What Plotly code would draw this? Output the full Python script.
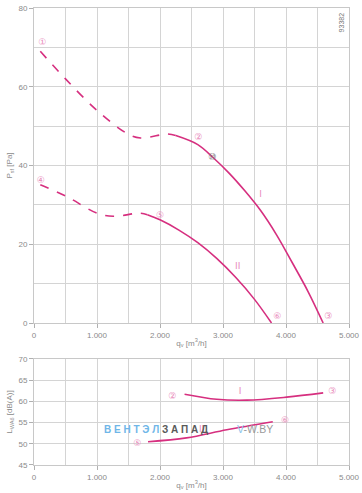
import plotly.graph_objects as go

# ---- data ----
# Pressure curves (top chart), q in m3/h, p in Pa
I_dash_q = [100, 500, 1000, 1470, 1690, 2120, 2250]
I_dash_p = [69.0, 62.0, 54.0, 48.2, 47.0, 48.0, 47.6]
I_q = [2250, 2600, 2850, 3100, 3350, 3600, 3850, 4100, 4350, 4590]
I_p = [47.6, 45.3, 41.9, 38.0, 33.5, 28.5, 22.4, 15.3, 8.0, 0.0]

II_dash_q = [100, 520, 1000, 1260, 1680, 1800]
II_dash_p = [35.1, 32.1, 27.9, 27.1, 27.9, 27.5]
II_q = [1800, 2000, 2300, 2600, 2900, 3200, 3500, 3770]
II_p = [27.5, 26.2, 23.6, 20.4, 16.4, 11.6, 6.0, 0.0]

# Sound curves (bottom chart), dB(A)
LI_q = [2390, 2900, 3380, 4010, 4590]
LI_L = [61.7, 60.5, 60.3, 61.0, 62.0]
LII_q = [1810, 2420, 3060, 3790]
LII_L = [50.5, 51.4, 53.3, 55.2]

# point labels
top_lbl_text = ["①", "②", "③", "④", "⑤", "⑥", "I", "II"]
top_lbl_q = [132, 2608, 4672, 106, 2000, 3862, 3598, 3233]
top_lbl_p = [71.1, 47.0, 1.7, 36.2, 27.3, 1.7, 32.7, 14.2]
gray_lbl_text = ["⑩"]
gray_lbl_q = [2830]
gray_lbl_p = [42.0]
bot_lbl_text = ["②", "I", "③", "⑤", "II", "⑥"]
bot_lbl_q = [2196, 3270, 4735, 1640, 2661, 3984]
bot_lbl_L = [61.0, 62.3, 62.3, 50.0, 53.4, 55.4]

x_ticks = [0, 1000, 2000, 3000, 4000, 5000]
x_tick_text = ["0", "1.000", "2.000", "3.000", "4.000", "5.000"]
top_y_ticks = [0, 20, 40, 60, 80]
bot_y_ticks = [45, 50, 55, 60, 65, 70]

PINK = "#d62f7f"
LPINK = "#e98bbb"
GRID = "#d4d4d4"
TXT = "#8a8a8a"
FONT = "Liberation Sans, Arial, sans-serif"

fig = go.Figure()

def line(x, y, dash, xa, ya):
    fig.add_trace(go.Scatter(x=x, y=y, mode="lines", xaxis=xa, yaxis=ya,
                             line=dict(color=PINK, width=1.6, dash=dash, shape="spline"),
                             hoverinfo="skip", showlegend=False))

line(I_dash_q, I_dash_p, "dash", "x", "y")
line(I_q, I_p, "solid", "x", "y")
line(II_dash_q, II_dash_p, "dash", "x", "y")
line(II_q, II_p, "solid", "x", "y")
line(LI_q, LI_L, "solid", "x2", "y2")
line(LII_q, LII_L, "solid", "x2", "y2")

fig.add_trace(go.Scatter(x=top_lbl_q, y=top_lbl_p, text=top_lbl_text, mode="text",
                         textfont=dict(color=LPINK, size=9, family="DejaVu Sans"),
                         xaxis="x", yaxis="y", showlegend=False, hoverinfo="skip"))
fig.add_trace(go.Scatter(x=gray_lbl_q, y=gray_lbl_p, text=gray_lbl_text, mode="text",
                         textfont=dict(color="#777777", size=9, family="DejaVu Sans"),
                         xaxis="x", yaxis="y", showlegend=False, hoverinfo="skip"))
fig.add_trace(go.Scatter(x=bot_lbl_q, y=bot_lbl_L, text=bot_lbl_text, mode="text",
                         textfont=dict(color=LPINK, size=9, family="DejaVu Sans"),
                         xaxis="x2", yaxis="y2", showlegend=False, hoverinfo="skip"))

axis_common = dict(showgrid=True, gridcolor=GRID, gridwidth=1, zeroline=False,
                   showline=True, linecolor="#c8c8c8", linewidth=1, mirror=True,
                   ticks="outside", ticklen=4, tickcolor="#b0b0b0", automargin=False,
                   tickfont=dict(size=8, color=TXT, family=FONT))

fig.update_layout(
    width=362, height=493,
    margin=dict(l=34, r=13, t=8, b=28),
    paper_bgcolor="white", plot_bgcolor="white",
    font=dict(family=FONT, color=TXT),
    xaxis=dict(domain=[0, 1], range=[0, 5000], anchor="y",
               tickvals=x_ticks, ticktext=x_tick_text,
               minor=dict(dtick=500, showgrid=True, gridcolor=GRID, ticks=""),
               title=dict(text="q<sub>v</sub> [m<sup>3</sup>/h]", font=dict(size=8, color=TXT), standoff=1),
               **axis_common),
    yaxis=dict(domain=[0.3107, 1], range=[0, 80], anchor="x",
               tickvals=top_y_ticks,
               minor=dict(dtick=10, showgrid=True, gridcolor=GRID, ticks=""),
               title=dict(text="P<sub>sf</sub> [Pa]", font=dict(size=8, color=TXT), standoff=4),
               **axis_common),
    xaxis2=dict(domain=[0, 1], range=[0, 5000], anchor="y2",
                tickvals=x_ticks, ticktext=x_tick_text,
                minor=dict(dtick=500, showgrid=True, gridcolor=GRID, ticks=""),
                title=dict(text="q<sub>v</sub> [m<sup>3</sup>/h]", font=dict(size=8, color=TXT), standoff=1),
                **axis_common),
    yaxis2=dict(domain=[0, 0.232], range=[45, 70], anchor="x2",
                tickvals=bot_y_ticks,
                title=dict(text="L<sub>WA6</sub> [dB(A)]", font=dict(size=8, color=TXT), standoff=4),
                **axis_common),
)

fig.add_annotation(x=0.975, y=0.995, xref="paper", yref="paper", text="93382",
                   textangle=-90, showarrow=False, xanchor="center", yanchor="top",
                   font=dict(size=7, color="#777777", family=FONT))

fig.add_annotation(x=1075, y=53.4, xref="x2", yref="y2", xanchor="left", yanchor="middle",
                   showarrow=False,
                   text="<b><span style='color:#6fb6e8'>В Е Н Т Э Л </span>"
                        "<span style='color:#5a5a5a'>З А П А Д</span></b>",
                   font=dict(size=10, family=FONT))
fig.add_annotation(x=3190, y=53.4, xref="x2", yref="y2", xanchor="left", yanchor="middle",
                   showarrow=False,
                   text="<span style='color:#8cc4ec'>V</span><span style='color:#9a9a9a'>-W.BY</span>",
                   font=dict(size=10.5, family=FONT))

fig.write_html("out.html", config={"displayModeBar": False},
               post_script="document.body.style.margin='0';document.body.style.overflow='hidden';")
